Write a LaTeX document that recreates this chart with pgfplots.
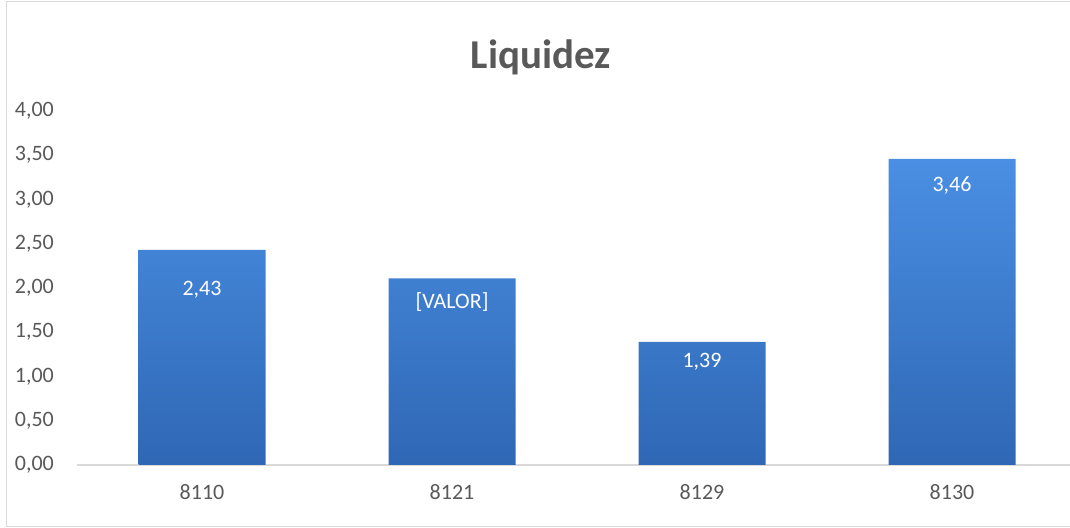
\documentclass[border=0pt]{standalone}
\usepackage{pgfplots}
\pgfplotsset{compat=1.18}
\usepackage{fontspec}
\setmainfont{Carlito}
\definecolor{txt}{HTML}{595959}
\definecolor{axl}{HTML}{D9D9D9}
\definecolor{bartop}{HTML}{4A8FE3}
\definecolor{barbot}{HTML}{2F67B5}
\begin{document}
\begin{tikzpicture}[x=1pt,y=1pt]
\useasboundingbox (0,0) rectangle (1070,527);
\draw[axl,line width=1pt] (1075,525) -- (6,525) -- (6,1) -- (1075,1);
\node[text=txt,font=\fontsize{41}{46}\selectfont\bfseries] at (541,470) {Liquidez};
\begin{axis}[
  at={(202pt,62pt)}, anchor=origin,
  scale only axis, width=993pt, height=354pt,
  xmin=-0.5, xmax=3.472, ymin=0, ymax=4,
  axis y line=none,
  axis x line*=bottom,
  x axis line style={axl,line width=1.2pt,-},
  xtick={0,1,2,3}, xticklabels={8110,8121,8129,8130},
  ytick={0,0.5,...,4},
  major tick length=0pt,
  ticklabel style={text=txt,font=\fontsize{22}{24}\selectfont},
  xticklabel style={anchor=center, yshift=-27pt},
  clip=false,
]
\addplot[ybar, bar width=127pt, draw=none, top color=bartop, bottom color=barbot] coordinates {(0,2.43) (1,2.11) (2,1.39) (3,3.46)};
\addplot[only marks, mark=none, nodes near coords, point meta=explicit symbolic,
  nodes near coords align=center,
  every node near coord/.append style={text=white,font=\fontsize{22}{24}\selectfont, anchor=center}]
  coordinates {(0,1.977)[2,43] (1,1.842)[{[VALOR]}] (2,1.164)[1,39] (3,3.153)[3,46]};
\end{axis}
% y tick labels (axis y line hidden)
\foreach \v/\l in {0/{0,00},0.5/{0,50},1/{1,00},1.5/{1,50},2/{2,00},2.5/{2,50},3/{3,00},3.5/{3,50},4/{4,00}}{
  \node[anchor=east,text=txt,font=\fontsize{22}{24}\selectfont,inner sep=0pt] at (54,62+\v*88.5) {\l};
}
\end{tikzpicture}
\end{document}
